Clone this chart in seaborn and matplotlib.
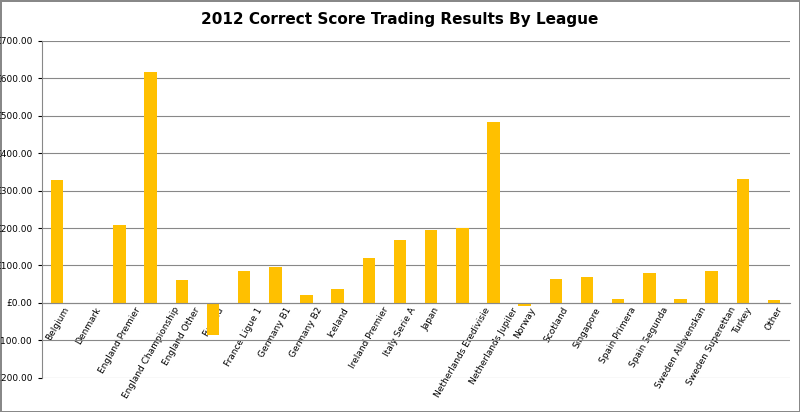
import matplotlib
matplotlib.use("Agg")
import matplotlib.pyplot as plt
import seaborn as sns
import pandas as pd

leagues = ["Belgium","Denmark","England Premier","England Championship","England Other","Finland",
           "France Ligue 1","Germany B1","Germany B2","Iceland","Ireland Premier","Italy Serie A","Japan",
           "Netherlands Eredivisie","Netherlands Jupiler","Norway","Scotland","Singapore","Spain Primera",
           "Spain Segunda","Sweden Allsvenskan","Sweden Superettan","Turkey","Other"]
profit = [327,0,209,617,61,-86,86,96,21,37,120,168,195,200,484,-8,64,70,11,80,10,86,331,8]
yticks = [-200,-100,0,100,200,300,400,500,600,700]

df = pd.DataFrame({"League": leagues, "Profit": profit})
fig = plt.figure(figsize=(8,4.12), dpi=100)
ax = fig.add_axes([0.052, 0.083, 0.935, 0.818])
sns.barplot(data=df, x="League", y="Profit", color="#FFC000", width=0.4, ax=ax,
            label="Profit/Loss By League", saturation=1)
ax.set_ylim(-200,700)
ax.set_yticks(yticks)
ax.set_yticklabels([f"-£{abs(v):.2f}" if v<0 else f"£{v:.2f}" for v in yticks])
ax.yaxis.grid(True, color="#888888", lw=0.8)
ax.set_axisbelow(True)
ax.set_xlabel(""); ax.set_ylabel("")
ax.set_xlim(-0.5, len(leagues)-0.5)
ax.tick_params(axis="x", length=0, pad=2, labelsize=6.5, labelrotation=60)
ax.tick_params(axis="y", length=3, labelsize=6.5)
for lab in ax.get_xticklabels():
    lab.set_horizontalalignment("right")
    lab.set_rotation_mode("anchor")
for s in ["top","right"]:
    ax.spines[s].set_visible(False)
ax.spines["left"].set_color("#888888"); ax.spines["bottom"].set_color("#888888")
ax.spines["bottom"].set_position(("data",0))
fig.suptitle("2012 Correct Score Trading Results By League", fontsize=11, fontweight="bold", y=0.97)
ax.legend(loc="upper center", bbox_to_anchor=(0.5,-0.08), frameon=False, fontsize=6.5,
          handlelength=0.7, handleheight=0.7)
fig.patch.set_edgecolor("#888888"); fig.patch.set_linewidth(1)
fig.savefig("out.png", dpi=100)
